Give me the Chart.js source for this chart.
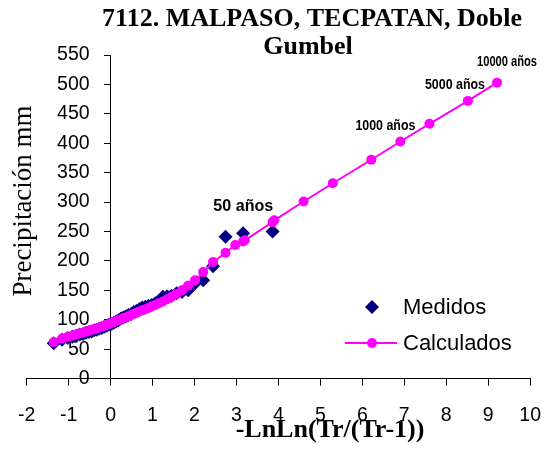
<!DOCTYPE html>
<html>
<head>
<meta charset="utf-8">
<script src="https://cdn.jsdelivr.net/npm/chart.js@4"></script>
<style>
  body { margin: 0; background: #fff; }
  #wrap { width: 559px; height: 449px; }
</style>
</head>
<body>
<div id="wrap"><canvas id="myChart"></canvas></div>
<script>
// 観測値 (Medidos): -LnLn(Tr/(Tr-1)) と降水量
const medX = [3.861, 3.157, 2.740, 2.442, 2.207, 2.013, 1.848, 1.702, 1.572, 1.454,
              1.346, 1.246, 1.152, 1.065, 0.982, 0.903, 0.827, 0.755, 0.685, 0.618,
              0.553, 0.489, 0.427, 0.367, 0.307, 0.248, 0.190, 0.133, 0.076, 0.019,
              -0.037, -0.094, -0.151, -0.209, -0.267, -0.327, -0.388, -0.450, -0.515, -0.583,
              -0.655, -0.732, -0.816, -0.910, -1.020, -1.156, -1.354];
const medY = [250, 247, 241, 191, 167, 162, 150, 147, 145, 141,
              140, 139, 131, 128, 125, 124, 122, 121, 118, 115,
              113, 110, 108, 106, 104, 102, 99, 97, 95, 93,
              92, 90, 88, 86, 85, 83, 82, 80, 79, 78,
              76, 75, 73, 71, 69, 66, 60];

// 計算値 (Calculados)
const calX = [-1.354, -1.156, -1.020, -0.910, -0.816, -0.732, -0.655, -0.583, -0.515, -0.450,
              -0.388, -0.327, -0.267, -0.209, -0.151, -0.094, -0.037, 0.019, 0.076, 0.133,
              0.190, 0.248, 0.307, 0.367, 0.427, 0.489, 0.553, 0.618, 0.685, 0.755,
              0.827, 0.903, 0.982, 1.065, 1.152, 1.246, 1.346, 1.454, 1.572, 1.702,
              1.848, 2.013, 2.207, 2.442, 2.740, 2.970, 3.157, 3.199, 3.861, 3.902,
              4.600, 5.296, 6.214, 6.907, 7.600, 8.517, 9.210];
const calY = [62, 68, 71, 73, 75, 77, 78, 80, 81, 83,
              84, 85, 87, 88, 90, 91, 93, 95, 96, 98,
              99, 101, 103, 104, 106, 108, 110, 112, 114, 116,
              118, 120, 123, 125, 128, 131, 135, 139, 144, 150,
              158, 167, 181, 198, 214, 227, 233, 235, 266, 269,
              301, 332, 372, 403, 433, 472, 503];

// 再現期間ラベル
const periodLabels = ['50 años', '1000 años', '5000 años', '10000 años'];
const periodIndex = [49, 53, 55, 56];

const xTicks = [-2, 10, 1];   // min, max, step
const yTicks = [0, 550, 50];

const titleLines = ['7112. MALPASO, TECPATAN, Doble', 'Gumbel'];
const xTitle = '-LnLn(Tr/(Tr-1))';
const yTitle = 'Precipitación mm';
const seriesNames = ['Medidos', 'Calculados'];

const NAVY = '#000080';
const PINK = '#FF00FF';

// テキストと凡例を描くプラグイン
const extras = {
    id: 'extras',
    afterDraw(chart) {
        const ctx = chart.ctx;
        const xs = chart.scales.x, ys = chart.scales.y;
        ctx.save();
        ctx.fillStyle = '#000';
        ctx.textAlign = 'center';
        ctx.textBaseline = 'middle';

        // タイトル
        ctx.font = 'bold 26px "Liberation Serif", "Times New Roman", serif';
        ctx.fillText(titleLines[0], 312, 19);
        ctx.fillText(titleLines[1], 308, 47);

        // X軸タイトル
        ctx.font = 'bold 26px "Liberation Serif", "Times New Roman", serif';
        ctx.fillText(xTitle, 330, 430);

        // Y軸タイトル
        ctx.save();
        ctx.translate(24, 201);
        ctx.rotate(-Math.PI / 2);
        ctx.font = '27px "Liberation Serif", "Times New Roman", serif';
        ctx.fillText(yTitle, 0, 0);
        ctx.restore();

        // 再現期間ラベル (Excel風に横幅を詰める)
        const offs = [[-31, -14], [-15, -16], [-13, -16], [10, -21]];
        const sizes = [16, 15, 15, 14];
        periodLabels.forEach((t, i) => {
            const k = periodIndex[i];
            const px = xs.getPixelForValue(calX[k]) + offs[i][0];
            const py = ys.getPixelForValue(calY[k]) + offs[i][1];
            ctx.font = 'bold ' + sizes[i] + 'px "Liberation Sans", Arial, sans-serif';
            const w = ctx.measureText(t).width;
            const sx = 60 / w;
            ctx.save();
            ctx.translate(px, py);
            ctx.scale(sx, 1);
            ctx.fillText(t, 0, 0);
            ctx.restore();
        });

        // 凡例
        ctx.textAlign = 'left';
        ctx.font = '22px "Liberation Sans", Arial, sans-serif';
        const lx = 372, ly1 = 307, ly2 = 343;
        ctx.fillStyle = NAVY;
        ctx.beginPath();
        ctx.moveTo(lx, ly1 - 7); ctx.lineTo(lx + 7, ly1); ctx.lineTo(lx, ly1 + 7); ctx.lineTo(lx - 7, ly1);
        ctx.closePath(); ctx.fill();
        ctx.strokeStyle = PINK; ctx.lineWidth = 2;
        ctx.beginPath(); ctx.moveTo(345, ly2); ctx.lineTo(397, ly2); ctx.stroke();
        ctx.fillStyle = PINK;
        ctx.beginPath(); ctx.arc(lx, ly2, 5, 0, Math.PI * 2); ctx.fill();
        ctx.fillStyle = '#000';
        ctx.fillText(seriesNames[0], 403, ly1 + 1);
        ctx.fillText(seriesNames[1], 403, ly2 + 1);
        ctx.restore();
    }
};

function drawChart() {
    const ctx = document.getElementById('myChart').getContext('2d');

    const data = {
        datasets: [{
            label: seriesNames[0],
            data: medX.map((x, i) => ({x: x, y: medY[i]})),
            showLine: false,
            pointStyle: 'rectRot',
            pointRadius: 7,
            pointBackgroundColor: NAVY,
            pointBorderColor: NAVY,
            pointBorderWidth: 0,
            order: 2
        }, {
            label: seriesNames[1],
            data: calX.map((x, i) => ({x: x, y: calY[i]})),
            showLine: true,
            borderColor: PINK,
            borderWidth: 2,
            pointStyle: 'circle',
            pointRadius: 5,
            pointBackgroundColor: PINK,
            pointBorderColor: PINK,
            pointBorderWidth: 0,
            order: 1
        }]
    };

    const tickFont = {family: '"Liberation Sans", Arial, sans-serif', size: 19.5};

    const config = {
        type: 'scatter',
        data: data,
        options: {
            responsive: true,
            maintainAspectRatio: false,
            animation: false,
            layout: {padding: {left: 26, right: 18, top: 55, bottom: 4}},
            plugins: {legend: {display: false}, title: {display: false}, tooltip: {enabled: false}},
            scales: {
                x: {
                    type: 'linear',
                    min: xTicks[0], max: xTicks[1],
                    ticks: {stepSize: xTicks[2], color: '#000', font: tickFont, padding: 18, maxRotation: 0},
                    grid: {drawOnChartArea: false, color: '#000', tickLength: 7},
                    border: {display: true, color: '#000', width: 1}
                },
                y: {
                    type: 'linear',
                    position: {x: -0.5},
                    min: yTicks[0], max: yTicks[1],
                    ticks: {stepSize: yTicks[2], color: '#000', font: tickFont},
                    grid: {display: false},
                    border: {display: false}
                },
                yline: {
                    type: 'linear',
                    axis: 'y',
                    position: {x: 0},
                    min: yTicks[0], max: yTicks[1],
                    ticks: {stepSize: yTicks[2], display: false},
                    grid: {drawOnChartArea: false, color: '#000', tickLength: 6},
                    border: {display: true, color: '#000', width: 1}
                }
            }
        },
        plugins: [extras]
    };

    new Chart(ctx, config);
}

window.onload = drawChart;
</script>
</body>
</html>
